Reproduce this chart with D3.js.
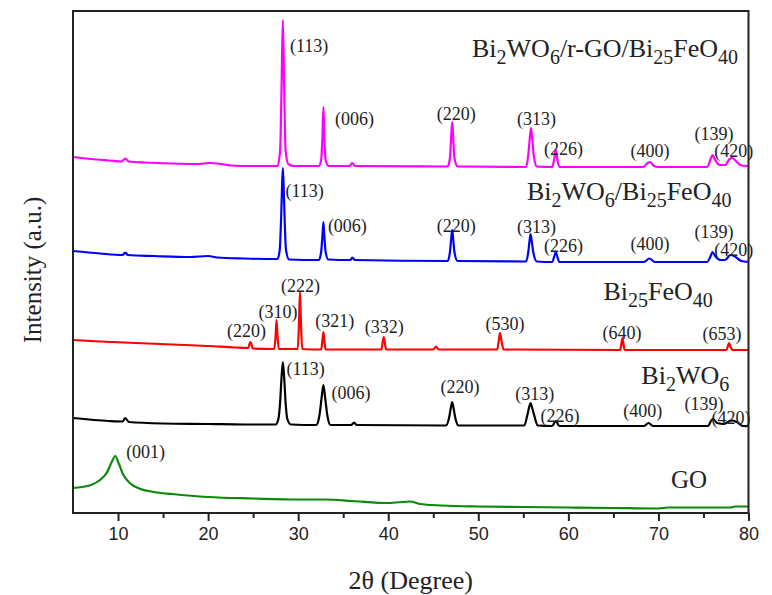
<!DOCTYPE html>
<html><head><meta charset="utf-8">
<script src="https://cdn.jsdelivr.net/npm/d3@7"></script>
<style>body{margin:0;background:#fff}svg{display:block}</style>
</head><body>
<script>
// 2θ tick values
const majorTicks = [10,20,30,40,50,60,70,80];
const minorTicks = [15,25,35,45,55,65,75];

// Series: [2θ, intensity (a.u., stacked offsets included)]
const compositeRGO = [[5,356],[7,354],[9,352.5],[10.4,351.5],[10.8,354.5],[11.2,351.5],[13,350.5],[16,349.5],[19,349],[20,350],[21.5,349],[22.5,347.5],[25,347],[27.7,347],[28.0,363],[28.15,423],[28.3,493],[28.45,423],[28.6,363],[28.9,349],[29.5,347],[32.3,347],[32.55,353],[32.7,378],[32.8,406],[32.9,378],[33.05,353],[33.4,347],[35.7,347],[36.0,350],[36.3,347],[46.6,346.5],[46.85,355],[47.0,378],[47.1,391],[47.2,378],[47.35,355],[47.7,346.5],[55.3,346],[55.55,358],[55.72,375],[55.85,385],[55.98,375],[56.15,358],[56.5,346.5],[58.2,346],[58.45,355],[58.6,363],[58.75,355],[59.0,346],[68.3,346],[68.8,350],[69.1,351],[69.5,347],[70,346],[75.4,346],[75.8,354],[76.0,358],[76.3,353],[76.8,348],[77.4,348],[77.9,354],[78.2,355],[78.6,352],[79.2,347.5],[80,347]];
const composite = [[5,262],[8,259.5],[10.5,258],[10.8,260.5],[11.1,258],[14,257],[18,256],[20,257],[21,255.5],[24,254.5],[27.7,254],[27.95,263],[28.1,293],[28.2,323],[28.3,345],[28.4,323],[28.5,293],[28.65,263],[29.0,253.5],[32.3,253],[32.55,261],[32.7,278],[32.8,291],[32.9,278],[33.05,261],[33.35,253.5],[35.8,253],[36.0,255.5],[36.3,253],[46.6,252],[46.85,261],[47.0,275],[47.1,283],[47.2,275],[47.35,261],[47.7,252],[55.3,251.5],[55.55,261],[55.7,273],[55.8,279],[55.92,273],[56.1,261],[56.5,251.5],[58.2,251],[58.45,257],[58.6,261],[58.75,257],[59.0,251],[68.4,251],[69.0,254.5],[69.6,251],[75.4,251],[75.8,257],[76.0,261],[76.3,257],[76.9,253],[77.4,253],[78.0,258],[78.4,257],[79.2,252],[80,251]];
const bfo = [[5,173],[8,171.5],[12,170],[16,168.5],[20,167],[23,165.5],[24.45,165],[24.6,169],[24.7,171],[24.8,169],[24.95,164.5],[27.35,164],[27.5,178],[27.6,193],[27.7,178],[27.85,164],[29.95,164],[30.1,193],[30.2,221],[30.3,193],[30.45,164],[32.55,163.5],[32.7,173],[32.8,181],[32.9,173],[33.05,163.5],[39.25,163.5],[39.4,172],[39.5,176],[39.6,172],[39.75,163.5],[45.0,163.5],[45.3,166.5],[45.6,163.5],[52.1,163.5],[52.28,173],[52.4,180],[52.5,176],[52.6,171],[52.8,163.5],[65.75,163],[65.9,170],[66.0,175],[66.1,170],[66.25,163],[77.55,163],[77.75,168],[77.85,170],[78.0,166],[78.3,163],[80,163]];
const bwo = [[5,95],[9,92],[10.5,91.5],[10.8,95],[11.2,91],[15,89.5],[20,89],[24,88.5],[27.5,88.5],[27.8,94],[28.0,111],[28.15,135],[28.3,151],[28.45,135],[28.6,111],[28.8,94],[29.2,88.5],[32.0,88],[32.35,97],[32.6,115],[32.8,128],[33.0,115],[33.25,97],[33.6,88],[35.9,88],[36.2,90.5],[36.5,88],[46.4,87.5],[46.75,95],[46.95,105],[47.1,111],[47.25,105],[47.45,95],[47.8,87.5],[55.1,87.5],[55.45,98],[55.65,106],[55.8,110],[55.95,106],[56.2,98],[56.6,87.5],[58.2,87],[58.6,92],[59.0,87],[68.4,87],[68.9,90],[69.4,87],[75.5,87],[75.9,93],[76.1,94],[76.5,90],[77.3,89],[77.9,92],[78.2,92.5],[78.7,91],[79.4,87],[80,87]];
const go = [[5,25],[6,26],[7,28],[8,33],[8.8,41],[9.3,51],[9.7,57],[10.1,49],[10.6,38],[11.3,30],[12.5,24],[14,21],[16,19],[20,16],[25,14.5],[30,13.5],[33,13.5],[36,12],[40,10],[42.5,11.5],[43.5,9],[46,7.5],[50,6.5],[55,6],[60,5.5],[65,5],[70,4.5],[71,5.5],[75,5.5],[78,5.5],[78.5,6.5],[80,6.5]];

// Peak (hkl) annotations anchored in data coordinates [2θ, intensity, text]
const rgoPeaks = [[29.1,461,"(113)"],[34.1,388,"(006)"],[45.4,393,"(220)"],[54.3,388,"(313)"],[57.3,358,"(226)"],[66.9,356,"(400)"],[74.0,373,"(139)"],[76.2,356,"(420)"]];
const compPeaks = [[28.6,316,"(113)"],[33.3,281,"(006)"],[45.4,281,"(220)"],[54.3,280,"(313)"],[57.3,261,"(226)"],[66.9,263,"(400)"],[74.0,275,"(139)"],[76.2,257,"(420)"]];
const bfoPeaks = [[22.1,176,"(220)"],[25.6,195,"(310)"],[28.1,221,"(222)"],[31.9,186,"(321)"],[37.4,180,"(332)"],[50.8,183,"(530)"],[63.8,174,"(640)"],[74.9,173,"(653)"]];
const bwoPeaks = [[28.7,138,"(113)"],[33.7,114,"(006)"],[45.8,120,"(220)"],[54.1,113,"(313)"],[56.9,91,"(226)"],[66.1,96,"(400)"],[72.9,103,"(139)"],[75.9,89,"(420)"]];
const goPeaks = [[10.9,55,"(001)"]];

// Sample names: parts [text, isSubscript], anchor [2θ, intensity]
const sampleNames = [
  {parts:[["Bi",0],["2",1],["WO",0],["6",1],["/r-GO/Bi",0],["25",1],["FeO",0],["40",1]], at:[49.3,456]},
  {parts:[["Bi",0],["2",1],["WO",0],["6",1],["/Bi",0],["25",1],["FeO",0],["40",1]], at:[55.4,313]},
  {parts:[["Bi",0],["25",1],["FeO",0],["40",1]], at:[63.9,213]},
  {parts:[["Bi",0],["2",1],["WO",0],["6",1]], at:[68.1,129]},
  {parts:[["GO",0]], at:[71.4,25]}
];

const W = 772, H = 595;
const pLeft = 73, pRight = 748.5, pTop = 11, pBottom = 513;
const svg = d3.select("body").append("svg").attr("width", W).attr("height", H);
const x = d3.scaleLinear().domain([5,80]).range([pLeft,pRight]);
const y = d3.scaleLinear().domain([0,502]).range([pBottom,pTop]);

const series = [
  {data:compositeRGO, color:"#ff00ff", peaks:rgoPeaks},
  {data:composite, color:"#0000ff", peaks:compPeaks},
  {data:bfo, color:"#ff0000", peaks:bfoPeaks},
  {data:bwo, color:"#000000", peaks:bwoPeaks},
  {data:go, color:"#0a8a0a", peaks:goPeaks}
];
const line = d3.line().x(d=>x(d[0])).y(d=>y(d[1])).curve(d3.curveMonotoneX);
series.forEach(s=>{
  svg.append("path").attr("d", line(s.data)).attr("fill","none")
    .attr("stroke", s.color).attr("stroke-width", 2.2).attr("stroke-linejoin","round");
});

// Frame
svg.append("rect").attr("x",pLeft).attr("y",pTop).attr("width",pRight-pLeft).attr("height",pBottom-pTop)
  .attr("fill","none").attr("stroke","#222").attr("stroke-width",2);

// Bottom axis
const ax = svg.append("g").attr("transform",`translate(0,${pBottom})`)
  .call(d3.axisBottom(x).tickValues(majorTicks).tickSize(8).tickPadding(6).tickFormat(d3.format("d")));
ax.select(".domain").remove();
ax.selectAll(".tick line").attr("stroke","#222").attr("stroke-width",2);
ax.selectAll(".tick text").attr("font-family","'Liberation Sans', Arial, sans-serif").attr("font-size",18).attr("fill","#222");
const ax2 = svg.append("g").attr("transform",`translate(0,${pBottom})`)
  .call(d3.axisBottom(x).tickValues(minorTicks).tickSize(5).tickFormat(""));
ax2.select(".domain").remove();
ax2.selectAll(".tick line").attr("stroke","#222").attr("stroke-width",2);

// Axis titles
const serif = "'Liberation Serif', 'Times New Roman', serif";
svg.append("text").attr("x",(pLeft+pRight)/2).attr("y",589).attr("text-anchor","middle")
  .attr("font-family",serif).attr("font-size",26).attr("fill","#222")
  .text("2θ (Degree)");
svg.append("text").attr("transform",`translate(41,${(pTop+pBottom)/2+8}) rotate(-90)`).attr("text-anchor","middle")
  .attr("font-family",serif).attr("font-size",25).attr("fill","#222")
  .text("Intensity (a.u.)");

// Peak labels
series.forEach(s=>{
  svg.append("g").selectAll("text").data(s.peaks).join("text")
    .attr("x",d=>x(d[0])).attr("y",d=>y(d[1]))
    .attr("font-family",serif).attr("font-size",18).attr("fill","#222")
    .text(d=>d[2]);
});

// Sample names
sampleNames.forEach(n=>{
  const t = svg.append("text").attr("x",x(n.at[0])).attr("y",y(n.at[1]))
    .attr("font-family",serif).attr("font-size",n.parts.length>1?26:25).attr("fill","#222");
  let sub = false;
  n.parts.forEach(p=>{
    const ts = t.append("tspan").text(p[0]);
    if (p[1] && !sub) { ts.attr("dy",7).attr("font-size",20); sub = true; }
    else if (p[1]) { ts.attr("font-size",20); }
    else if (!p[1] && sub) { ts.attr("dy",-7); sub = false; }
  });
});
</script>
</body></html>
